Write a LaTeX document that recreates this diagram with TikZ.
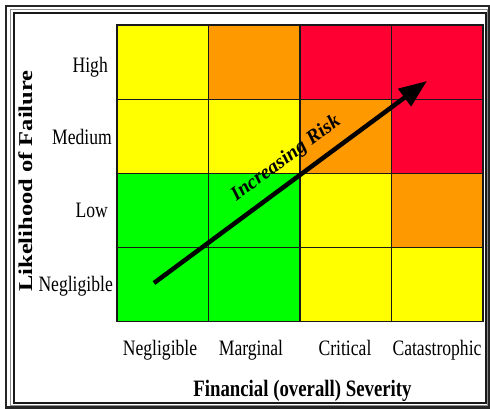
\documentclass[tikz,border=0pt]{standalone}
\usepackage{fontspec}
\setmainfont{Liberation Serif}
\newfontfamily\narrowfont{Liberation Serif}[FakeStretch=0.8]
\newfontfamily\tallfont{Liberation Serif}[FakeStretch=1.25]
\usetikzlibrary{arrows.meta}
\definecolor{riskgreen}{RGB}{0,255,0}
\definecolor{riskyellow}{RGB}{255,255,0}
\definecolor{riskorange}{RGB}{255,153,0}
\definecolor{riskred}{RGB}{255,0,51}
\tikzset{
  rowlabel/.style = {anchor=base east, inner sep=0pt, font=\narrowfont\fontsize{22}{22}\selectfont},
  collabel/.style = {anchor=base, inner sep=0pt, font=\narrowfont\fontsize{22}{22}\selectfont},
  cellbox/.style = {draw=black!90, line width=1.2pt}
}

\begin{document}
\begin{tikzpicture}[x=1pt, y=-1pt]
\useasboundingbox (0,0) rectangle (490,409);
% frame
\draw[line width=2.5pt, black!85] (6,6) rectangle (489,407.5);
\draw[line width=1pt, black!45] (10,10) rectangle (487,405);
\draw[line width=2pt, black!90] (13.5,13.5) rectangle (485.5,402.5);

% risk cells, High row first
\foreach \row/\ca/\cb/\cc/\cd in {0/riskyellow/riskorange/riskred/riskred,
    1/riskyellow/riskyellow/riskorange/riskred,
    2/riskgreen/riskgreen/riskyellow/riskorange,
    3/riskgreen/riskgreen/riskyellow/riskyellow}{
  \foreach \col/\cellcol in {0/\ca, 1/\cb, 2/\cc, 3/\cd}
    \filldraw[cellbox, fill=\cellcol] ({117+91.5*\col}, {25+74.2*\row}) rectangle +(91.5,74.2);
}

% likelihood labels
\node[rowlabel] (high) at (108,72.5) {High};
\node[rowlabel] (medium) at (112,145) {Medium};
\node[rowlabel] (low) at (108,217.5) {Low};
\node[rowlabel] (rareL) at (113,291.5) {Negligible};

% severity labels
\node[collabel] (negS) at (160,355) {Negligible};
\node[collabel] (margS) at (251,355) {Marginal};
\node[collabel] (critS) at (345,355) {Critical};
\node[collabel] (catS) at (437,355) {Catastrophic};

% axis titles
\node[anchor=base, inner sep=0pt, font=\narrowfont\bfseries\fontsize{23.5}{24}\selectfont] (sevtitle) at (302.5,396) {Financial (overall) Severity};
\node[rotate=90, anchor=base, inner sep=0pt, font=\tallfont\bfseries\fontsize{19.6}{20}\selectfont] (liketitle) at (32,181) {Likelihood of Failure};

% risk arrow
\coordinate (riskstart) at (154,283);
\coordinate (risktip) at (427,81);
\draw[line width=4.5pt, -{Triangle[length=28pt, width=21pt]}] (riskstart) -- node[sloped, above=10pt, pos=0.53, inner sep=0pt, font=\bfseries\itshape\fontsize{20}{20}\selectfont] (risklabel) {Increasing Risk} (risktip);
\end{tikzpicture}
\end{document}
